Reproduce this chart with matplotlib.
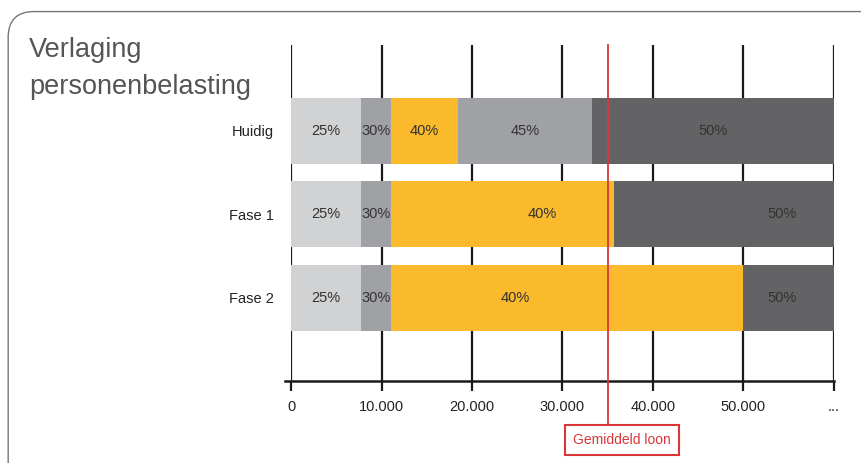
import matplotlib.pyplot as plt
from matplotlib.patches import FancyBboxPatch

plt.rcParams['font.family'] = ['Liberation Sans Narrow', 'Liberation Sans', 'DejaVu Sans']

# data: cumulative bracket edges (euro) per scenario
scenarios = ['Huidig', 'Fase 1', 'Fase 2']
rates = ['25%', '30%', '40%', '45%', '50%']
bounds = [
    [0, 7700, 11000, 18500, 33300, 60000],
    [0, 7700, 11000, 35700, 35700, 60000],
    [0, 7700, 11000, 50000, 50000, 60000],
]
# x where the percentage label sits (None = centre of segment)
label_x = [
    [None, None, None, None, None],
    [None, None, 27800, None, 54300],
    [None, None, 24800, None, 54300],
]
tick_vals = [0, 10000, 20000, 30000, 40000, 50000, 60000]
tick_labels = ['0', '10.000', '20.000', '30.000', '40.000', '50.000', '...']
avg_wage = 35000

colors = ['#d1d2d4', '#a0a1a5', '#fbb92c', '#a0a1a5', '#636365']

fig = plt.figure(figsize=(8.61, 4.63), dpi=100)

# rounded frame, runs off the bottom and right edges
frame = FancyBboxPatch((0.0095, -0.1), 1.1, 1.075, boxstyle='round,pad=0,rounding_size=0.03',
                       transform=fig.transFigure, fill=False, edgecolor='#777777', lw=1.0,
                       mutation_aspect=861 / 463)
fig.patches.append(frame)

fig.text(0.034, 0.891, 'Verlaging', fontsize=19.5, color='#555555', va='center', ha='left')
fig.text(0.034, 0.812, 'personenbelasting', fontsize=19.5, color='#555555', va='center', ha='left')

ax = fig.add_axes([0.338, 0.177, 0.6306, 0.726])
ax.set_xlim(0, 60000)
ax.set_ylim(3.0, -1.03)

for x in tick_vals:
    ax.axvline(x, color='#1a1a1a', lw=1.6, zorder=1)

for i, name in enumerate(scenarios):
    b = bounds[i]
    for j, rate in enumerate(rates):
        left, right = b[j], b[j + 1]
        if right <= left:
            continue
        ax.barh(i, right - left, left=left, height=0.79, color=colors[j], zorder=2)
        lx = label_x[i][j] if label_x[i][j] is not None else (left + right) / 2
        ax.text(lx, i, rate, ha='center', va='center', fontsize=10.5, color='#333333', zorder=3)

ax.axvline(avg_wage, color='#d9373a', lw=1.3, zorder=4, ymin=-0.13, ymax=1.0, clip_on=False)

ax.set_yticks(range(len(scenarios)))
ax.set_yticklabels(scenarios, fontsize=10.5, color='#222222')
ax.tick_params(axis='y', length=0, pad=12)
ax.set_xticks(tick_vals)
ax.set_xticklabels(tick_labels, fontsize=10.5, color='#222222')
ax.tick_params(axis='x', length=7, width=1.6, color='#1a1a1a', pad=7)

for s in ['top', 'right', 'left', 'bottom']:
    ax.spines[s].set_visible(False)
ax.plot([-0.012, 1.0], [0, 0], transform=ax.transAxes, color='#1a1a1a', lw=1.8, clip_on=False)

ax.text(avg_wage + 1550, -0.175, 'Gemiddeld loon', transform=ax.get_xaxis_transform(), ha='center',
        va='center', fontsize=10, color='#d9373a',
        bbox=dict(boxstyle='square,pad=0.6', fc='white', ec='#d9373a', lw=1.5))

fig.savefig('out.png', dpi=100)
